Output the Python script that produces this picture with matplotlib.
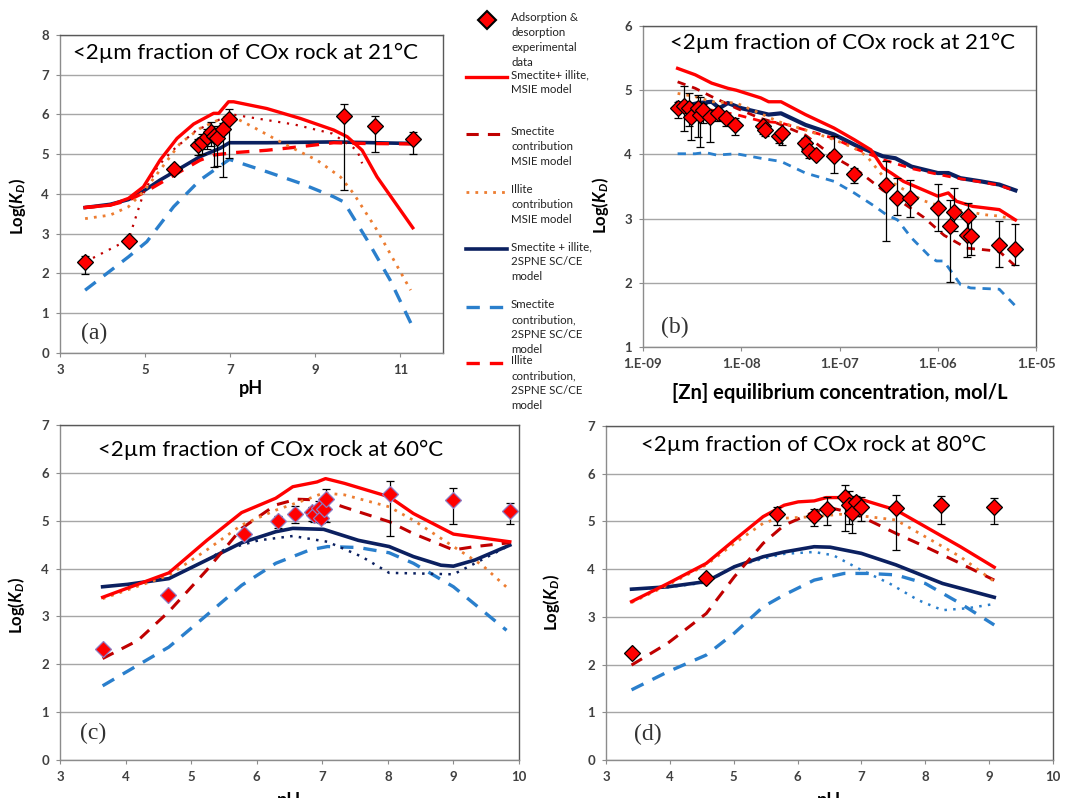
import matplotlib
matplotlib.use("Agg")
import matplotlib.pyplot as plt
from matplotlib.lines import Line2D
import numpy as np

plt.rcParams.update({
    "font.family": ["Lato", "DejaVu Sans"],
    "mathtext.fontset": "custom",
    "mathtext.rm": "Lato:bold",
    "mathtext.it": "Lato:italic:bold",
    "mathtext.bfit": "Lato:italic:bold",
    "axes.linewidth": 1.0,
})

RED = "#ff0000"
DKRED = "#c00000"
ORANGE = "#ed7d31"
NAVY = "#0b2060"
BLUE = "#2a7fcc"
GRID = "#a6a6a6"
TXT = "#404040"

# ---------------- panel (a): pH, 21 C ----------------
A_EXP_PH = [3.59, 4.61, 5.68, 6.25, 6.33, 6.45, 6.55, 6.62, 6.70, 6.84, 6.98, 9.67, 10.41, 11.29]
A_EXP_LK = [2.28, 2.81, 4.64, 5.23, 5.31, 5.43, 5.55, 5.47, 5.40, 5.63, 5.88, 5.96, 5.71, 5.38]
A_EXP_UP = [0.17, 0.0, 0.08, 0.15, 0.2, 0.2, 0.27, 0.25, 0.25, 0.15, 0.27, 0.30, 0.24, 0.19]
A_EXP_DN = [0.30, 0.0, 0.08, 0.25, 0.3, 0.3, 0.35, 0.80, 0.70, 1.20, 0.98, 1.86, 0.66, 0.38]

A_MSIE_PH = [3.59, 4.18, 4.61, 4.96, 5.35, 5.75, 6.14, 6.61, 6.73, 6.96, 7.08, 7.86, 8.65, 9.43, 9.75, 10.10, 10.45, 11.29]
A_MSIE_LK = [3.66, 3.72, 3.89, 4.18, 4.85, 5.40, 5.76, 6.03, 6.03, 6.32, 6.32, 6.15, 5.90, 5.61, 5.44, 5.10, 4.43, 3.15]
A_SMEC_MSIE_PH = [3.59, 4.61, 4.96, 5.30, 5.65, 6.20, 6.90, 7.05, 8.50, 9.40, 9.98, 10.10]
A_SMEC_MSIE_LK = [2.29, 2.85, 4.01, 4.70, 5.10, 5.60, 5.95, 6.00, 5.75, 5.52, 5.10, 4.77]
A_ILL_MSIE_PH = [3.59, 4.18, 4.61, 4.96, 5.35, 5.82, 6.29, 6.98, 7.53, 8.25, 9.04, 9.59, 9.90, 10.45, 11.24]
A_ILL_MSIE_LK = [3.38, 3.47, 3.68, 4.06, 4.60, 5.27, 5.65, 5.99, 5.69, 5.27, 4.85, 4.43, 4.01, 3.09, 1.58]
A_2SPNE_PH = [3.59, 4.18, 4.61, 5.00, 5.35, 5.75, 6.29, 6.76, 6.98, 7.86, 9.43, 11.32]
A_2SPNE_LK = [3.66, 3.74, 3.86, 4.10, 4.35, 4.60, 4.94, 5.15, 5.29, 5.29, 5.31, 5.27]
A_SMEC_2SPNE_PH = [3.59, 4.61, 5.04, 5.67, 6.29, 6.98, 7.86, 8.65, 9.43, 9.67, 10.22, 10.76, 11.29]
A_SMEC_2SPNE_LK = [1.58, 2.42, 2.80, 3.68, 4.35, 4.87, 4.56, 4.27, 3.93, 3.80, 2.84, 1.83, 0.65]
A_ILL_2SPNE_PH = [3.59, 4.18, 4.61, 5.00, 5.67, 6.29, 6.61, 7.08, 7.86, 8.65, 9.43, 10.20, 11.32]
A_ILL_2SPNE_LK = [3.66, 3.72, 3.84, 4.05, 4.47, 4.85, 4.98, 5.04, 5.10, 5.19, 5.29, 5.27, 5.26]

# ---------------- panel (b): isotherm, 21 C ----------------
B_EXP_C = [2.25e-9, 2.6e-9, 2.95e-9, 3.09e-9, 3.67e-9, 3.8e-9, 4.12e-9, 4.84e-9, 5.86e-9, 6.97e-9,
           8.61e-9, 1.65e-8, 1.73e-8, 2.42e-8, 2.58e-8, 4.5e-8, 4.95e-8, 5.82e-8, 8.79e-8, 1.39e-7,
           2.95e-7, 3.89e-7, 5.25e-7, 1.0e-6, 1.34e-6, 1.45e-6, 2.02e-6, 1.97e-6, 2.16e-6, 4.23e-6, 6.08e-6]
B_EXP_LK = [4.72, 4.75, 4.72, 4.59, 4.72, 4.62, 4.69, 4.59, 4.64, 4.56,
            4.46, 4.44, 4.38, 4.28, 4.34, 4.18, 4.05, 3.99, 3.97, 3.69,
            3.52, 3.32, 3.32, 3.16, 2.88, 3.10, 3.04, 2.75, 2.73, 2.59, 2.53]
B_EXP_UP = [0.10, 0.31, 0.23, 0.10, 0.20, 0.27, 0.10, 0.10, 0.05, 0.05,
            0.10, 0.05, 0.05, 0.06, 0.06, 0.07, 0.05, 0.05, 0.31, 0.10,
            0.38, 0.31, 0.28, 0.38, 0.41, 0.38, 0.20, 0.30, 0.30, 0.38, 0.38]
B_EXP_DN = [0.15, 0.38, 0.27, 0.37, 0.45, 0.50, 0.20, 0.40, 0.12, 0.12,
            0.16, 0.12, 0.10, 0.10, 0.20, 0.10, 0.10, 0.05, 0.26, 0.14,
            0.87, 0.26, 0.30, 0.35, 0.86, 0.30, 0.30, 0.35, 0.30, 0.35, 0.25]

B_MSIE_C = [2.25e-9, 3.4e-9, 5.0e-9, 7.3e-9, 8.9e-9, 1.58e-8, 1.9e-8, 2.54e-8, 4.5e-8, 8.8e-8,
            1.41e-7, 2.09e-7, 2.77e-7, 3.36e-7, 4.47e-7, 1.0e-6, 1.28e-6, 1.55e-6, 2.27e-6, 4.23e-6, 6.17e-6]
B_MSIE_LK = [5.34, 5.24, 5.11, 5.03, 5.00, 4.88, 4.82, 4.82, 4.62, 4.41,
             4.23, 4.07, 3.79, 3.71, 3.58, 3.35, 3.40, 3.27, 3.19, 3.14, 2.98]
B_SMEC_MSIE_C = [2.25e-9, 3.4e-9, 5.0e-9, 8.9e-9, 1.58e-8, 2.29e-8, 4.5e-8, 8.8e-8, 1.56e-7, 2.77e-7,
                 4.47e-7, 7.2e-7, 1.16e-6, 1.97e-6, 2.75e-6, 4.23e-6, 6.17e-6]
B_SMEC_MSIE_LK = [5.13, 5.03, 4.90, 4.72, 4.56, 4.49, 4.30, 3.96, 3.74, 3.44,
                  3.24, 3.02, 2.74, 2.54, 2.52, 2.49, 2.26]
B_ILL_MSIE_C = [2.25e-9, 3.4e-9, 5.0e-9, 8.9e-9, 1.45e-8, 2.4e-8, 4.5e-8, 8.8e-8, 1.41e-7, 1.9e-7,
                2.77e-7, 4.0e-7, 7.1e-7, 1.2e-6, 2.0e-6, 3.0e-6, 4.23e-6, 6.17e-6]
B_ILL_MSIE_LK = [4.95, 4.90, 4.82, 4.80, 4.66, 4.51, 4.38, 4.23, 4.10, 3.97,
                 3.66, 3.50, 3.28, 3.17, 3.11, 3.06, 3.04, 2.98]
B_2SPNE_C = [2.25e-9, 2.95e-9, 3.67e-9, 5.0e-9, 6.0e-9, 7.3e-9, 1.0e-8, 1.9e-8, 2.54e-8, 4.5e-8,
             8.8e-8, 1.56e-7, 2.77e-7, 3.71e-7, 5.4e-7, 1.0e-6, 1.28e-6, 1.7e-6, 2.75e-6, 4.23e-6, 6.17e-6]
B_2SPNE_LK = [4.80, 4.77, 4.80, 4.82, 4.72, 4.80, 4.72, 4.62, 4.64, 4.46,
              4.31, 4.12, 3.97, 3.94, 3.81, 3.71, 3.71, 3.63, 3.58, 3.53, 3.44]
B_ILL_2SPNE_C = [2.25e-9, 3.4e-9, 5.0e-9, 8.9e-9, 1.58e-8, 2.54e-8, 4.5e-8, 8.8e-8, 1.56e-7, 2.77e-7,
                 5.4e-7, 1.0e-6, 1.7e-6, 2.75e-6, 4.23e-6, 6.17e-6]
B_ILL_2SPNE_LK = [4.70, 4.70, 4.69, 4.62, 4.52, 4.49, 4.38, 4.25, 4.07, 3.92,
                  3.78, 3.69, 3.62, 3.57, 3.52, 3.43]
B_SMEC_2SPNE_C = [2.25e-9, 3.4e-9, 4.3e-9, 5.6e-9, 8.9e-9, 1.58e-8, 2.54e-8, 4.5e-8, 8.8e-8, 1.41e-7,
                  2.29e-7, 3.0e-7, 3.89e-7, 5.4e-7, 8.3e-7, 9.7e-7, 1.15e-6, 1.71e-6, 2.16e-6, 4.23e-6, 6.17e-6]
B_SMEC_2SPNE_LK = [4.01, 4.01, 4.03, 3.99, 4.01, 3.94, 3.89, 3.71, 3.58, 3.40,
                   3.19, 3.06, 2.98, 2.70, 2.41, 2.34, 2.34, 1.97, 1.92, 1.90, 1.64]

# ---------------- panel (c): pH, 60 C ----------------
C_EXP_PH = [3.65, 4.64, 5.80, 6.33, 6.58, 6.84, 6.88, 6.95, 6.98, 7.02, 7.06, 8.03, 9.00, 9.86]
C_EXP_LK = [2.31, 3.44, 4.73, 4.99, 5.15, 5.19, 5.12, 5.27, 5.05, 5.24, 5.45, 5.56, 5.43, 5.21]
C_EXP_UP = [0.0, 0.0, 0.0, 0.10, 0.15, 0.10, 0.10, 0.15, 0.10, 0.20, 0.22, 0.26, 0.25, 0.17]
C_EXP_DN = [0.0, 0.0, 0.0, 0.15, 0.20, 0.20, 0.15, 0.30, 0.10, 0.25, 0.48, 0.88, 0.49, 0.27]

C_MSIE_PH = [3.65, 4.66, 5.24, 5.77, 6.29, 6.55, 6.92, 7.05, 7.34, 8.02, 8.39, 9.00, 9.86]
C_MSIE_LK = [3.40, 3.91, 4.59, 5.17, 5.47, 5.71, 5.81, 5.88, 5.78, 5.50, 5.15, 4.72, 4.56]
C_SMEC_MSIE_PH = [3.65, 4.19, 4.66, 5.24, 5.77, 6.29, 6.61, 7.02, 7.34, 8.02, 8.39, 9.00, 9.33, 9.86]
C_SMEC_MSIE_LK = [2.12, 2.50, 3.10, 3.97, 4.84, 5.33, 5.45, 5.43, 5.28, 4.98, 4.73, 4.39, 4.46, 4.54]
C_ILL_MSIE_PH = [3.65, 4.66, 5.24, 5.77, 6.29, 6.81, 7.02, 7.34, 8.02, 8.39, 9.00, 9.44, 9.86]
C_ILL_MSIE_LK = [3.37, 3.86, 4.39, 4.91, 5.22, 5.47, 5.58, 5.54, 5.29, 5.01, 4.46, 4.07, 3.55]
C_2SPNE_PH = [3.65, 4.03, 4.66, 5.24, 5.77, 6.29, 6.55, 7.02, 7.55, 8.02, 8.39, 8.81, 9.00, 9.33, 9.86]
C_2SPNE_LK = [3.62, 3.67, 3.79, 4.18, 4.54, 4.77, 4.84, 4.82, 4.59, 4.46, 4.25, 4.07, 4.05, 4.18, 4.49]
C_DOT_2SPNE_PH = [5.24, 5.50, 6.03, 6.55, 7.08, 7.60, 8.02, 8.39, 9.00, 9.33, 9.86]
C_DOT_2SPNE_LK = [4.18, 4.39, 4.59, 4.68, 4.56, 4.25, 3.91, 3.90, 3.88, 4.11, 4.49]
C_SMEC_2SPNE_PH = [3.65, 4.66, 5.24, 5.77, 6.29, 6.81, 7.08, 7.55, 8.02, 8.39, 9.00, 9.81]
C_SMEC_2SPNE_LK = [1.55, 2.36, 3.03, 3.65, 4.11, 4.39, 4.46, 4.44, 4.33, 4.11, 3.62, 2.71]

# ---------------- panel (d): pH, 80 C ----------------
D_EXP_PH = [3.40, 4.57, 5.68, 6.26, 6.46, 6.75, 6.81, 6.86, 6.92, 6.99, 7.54, 8.24, 9.08]
D_EXP_LK = [2.25, 3.82, 5.15, 5.12, 5.27, 5.52, 5.34, 5.17, 5.41, 5.31, 5.29, 5.34, 5.31]
D_EXP_UP = [0.0, 0.0, 0.16, 0.14, 0.24, 0.25, 0.30, 0.20, 0.12, 0.20, 0.27, 0.19, 0.19]
D_EXP_DN = [0.0, 0.0, 0.23, 0.22, 0.35, 0.72, 0.40, 0.42, 0.30, 0.30, 0.88, 0.40, 0.37]

D_MSIE_PH = [3.40, 3.97, 4.57, 5.01, 5.46, 5.79, 6.01, 6.26, 6.45, 6.67, 7.00, 7.54, 8.00, 8.55, 9.08]
D_MSIE_LK = [3.32, 3.70, 4.12, 4.61, 5.10, 5.34, 5.41, 5.43, 5.50, 5.50, 5.46, 5.24, 4.89, 4.47, 4.04]
D_SMEC_MSIE_PH = [3.40, 3.97, 4.57, 5.01, 5.46, 5.79, 6.26, 6.56, 6.89, 7.54, 8.00, 8.55, 9.08]
D_SMEC_MSIE_LK = [1.99, 2.45, 3.07, 3.84, 4.54, 4.92, 5.20, 5.27, 5.17, 4.75, 4.47, 4.12, 3.77]
D_ILL_MSIE_PH = [3.40, 3.97, 4.57, 5.01, 5.46, 5.68, 6.26, 6.67, 7.11, 7.54, 8.00, 8.55, 9.08]
D_ILL_MSIE_LK = [3.30, 3.67, 4.09, 4.54, 4.96, 5.06, 5.10, 5.15, 5.10, 5.03, 4.68, 4.26, 3.74]
D_2SPNE_PH = [3.40, 3.97, 4.57, 5.01, 5.46, 5.79, 6.26, 6.51, 7.00, 7.54, 8.27, 9.08]
D_2SPNE_LK = [3.58, 3.63, 3.74, 4.05, 4.26, 4.36, 4.47, 4.46, 4.33, 4.09, 3.70, 3.41]
D_DOT_2SPNE_PH = [3.40, 3.97, 4.57, 5.01, 5.46, 5.79, 6.26, 6.56, 7.00, 7.44, 7.89, 8.27, 8.66, 9.08]
D_DOT_2SPNE_LK = [3.58, 3.62, 3.72, 4.05, 4.22, 4.32, 4.36, 4.29, 3.98, 3.70, 3.35, 3.14, 3.18, 3.27]
D_SMEC_2SPNE_PH = [3.40, 3.97, 4.57, 5.01, 5.46, 5.79, 6.26, 6.73, 7.11, 7.54, 8.00, 8.55, 9.08]
D_SMEC_2SPNE_LK = [1.47, 1.85, 2.20, 2.66, 3.21, 3.46, 3.77, 3.91, 3.91, 3.88, 3.70, 3.28, 2.83]

LEGEND_LABELS = [
    "Adsorption &\ndesorption\nexperimental\ndata",
    "Smectite+ illite,\nMSIE model",
    "Smectite\ncontribution\nMSIE model",
    "Illite\ncontribution\nMSIE model",
    "Smectite + illite,\n2SPNE SC/CE\nmodel",
    "Smectite\ncontribution,\n2SPNE SC/CE\nmodel",
    "Illite\ncontribution,\n2SPNE SC/CE\nmodel",
]

B_XTICKS = [1e-9, 1e-8, 1e-7, 1e-6, 1e-5]
B_XTICKLABELS = ["1.E-09", "1.E-08", "1.E-07", "1.E-06", "1.E-05"]

TITLE = "<2\u00b5m fraction of COx rock at {}\u00b0C"
YLABEL = r"Log($\mathbfit{K}_{\mathbfit{D}}$)"

# line styles
S_MSIE = dict(color=RED, lw=2.4, ls="-", zorder=3)
S_SMEC_MSIE = dict(color=DKRED, lw=2.2, ls=(0, (4, 3)), zorder=3)
S_SMEC_MSIE_DOT = dict(color=DKRED, lw=1.6, ls=(0, (1, 3)), zorder=3)
S_ILL_MSIE = dict(color=ORANGE, lw=2.0, ls=(0, (1, 2.2)), zorder=3)
S_2SPNE = dict(color=NAVY, lw=2.6, ls="-", zorder=3)
S_DOT_2SPNE = dict(color=NAVY, lw=1.8, ls=(0, (1, 2.5)), zorder=3)
S_BLUEDOT = dict(color=BLUE, lw=1.8, ls=(0, (1, 2.5)), zorder=3)
S_SMEC_2SPNE = dict(color=BLUE, lw=2.4, ls=(0, (4, 3)), zorder=3)
S_ILL_2SPNE = dict(color=RED, lw=2.4, ls=(0, (4, 3)), zorder=3)

W, H = 1090, 798
fig = plt.figure(figsize=(W / 100, H / 100), dpi=100)


def box(l, r, t, b):
    return [l / W, 1 - b / H, (r - l) / W, (b - t) / H]


def style(ax, ylim, yticks):
    ax.set_ylim(*ylim)
    ax.set_yticks(yticks)
    ax.grid(axis="y", color=GRID, lw=1.0)
    ax.set_axisbelow(True)
    for s in ["top", "right"]:
        ax.spines[s].set_color("#595959")
    for s in ["left", "bottom"]:
        ax.spines[s].set_color("#8c8c8c")
    ax.tick_params(axis="both", direction="out", length=3, color="#8c8c8c",
                   labelsize=9.5, labelcolor=TXT, pad=5)
    for lab in ax.get_xticklabels() + ax.get_yticklabels():
        lab.set_fontweight("bold")
    ax.set_ylabel(YLABEL, fontsize=12, fontweight="bold", color="black")


def exp(ax, x, y, up, dn, edge="black"):
    ax.errorbar(x, y, yerr=[dn, up], fmt="none", ecolor="black", elinewidth=0.9,
                capsize=3, capthick=0.9, zorder=4)
    ax.plot(x, y, ls="none", marker="D", ms=7.8, mfc=RED, mec=edge, mew=0.9, zorder=5)


def label(ax, s, x, y):
    ax.text(x, y, s, transform=ax.transAxes, fontsize=17, family="Liberation Serif",
            ha="center", va="center", color="#333333")


# ---- (a)
ax = fig.add_axes(box(60, 443, 35, 353))
ax.plot(A_SMEC_2SPNE_PH, A_SMEC_2SPNE_LK, **S_SMEC_2SPNE)
ax.plot(A_2SPNE_PH, A_2SPNE_LK, **S_2SPNE)
ax.plot(A_ILL_2SPNE_PH, A_ILL_2SPNE_LK, **S_ILL_2SPNE)
ax.plot(A_ILL_MSIE_PH, A_ILL_MSIE_LK, **S_ILL_MSIE)
ax.plot(A_SMEC_MSIE_PH, A_SMEC_MSIE_LK, **S_SMEC_MSIE_DOT)
ax.plot(A_MSIE_PH, A_MSIE_LK, **S_MSIE)
exp(ax, A_EXP_PH, A_EXP_LK, A_EXP_UP, A_EXP_DN)
ax.set_xlim(3, 12)
ax.set_xticks([3, 5, 7, 9, 11])
style(ax, (0, 8), range(0, 9))
ax.set_xlabel("pH", fontsize=13, fontweight="bold", labelpad=3)
ax.yaxis.set_label_coords(-0.084, 0.46)
ax.text(0.034, 0.943, TITLE.format(21), transform=ax.transAxes, fontsize=16, va="center")
label(ax, "(a)", 0.088, 0.063)

# ---- (b)
ax = fig.add_axes(box(643, 1036, 26, 347))
ax.set_xscale("log")
ax.plot(B_SMEC_2SPNE_C, B_SMEC_2SPNE_LK, **dict(S_SMEC_2SPNE, lw=2.0, ls=(0, (3, 2.5))))
ax.plot(B_2SPNE_C, B_2SPNE_LK, **dict(S_2SPNE, lw=3.0))
ax.plot(B_ILL_2SPNE_C, B_ILL_2SPNE_LK, **dict(S_ILL_2SPNE, lw=2.0, ls=(0, (3, 2.5))))
ax.plot(B_SMEC_MSIE_C, B_SMEC_MSIE_LK, **dict(S_SMEC_MSIE, lw=2.0, ls=(0, (3, 2.5))))
ax.plot(B_ILL_MSIE_C, B_ILL_MSIE_LK, **S_ILL_MSIE)
ax.plot(B_MSIE_C, B_MSIE_LK, **S_MSIE)
exp(ax, B_EXP_C, B_EXP_LK, B_EXP_UP, B_EXP_DN)
ax.set_xlim(1e-9, 1e-5)
ax.set_xticks(B_XTICKS)
ax.set_xticklabels(B_XTICKLABELS)
ax.minorticks_off()
style(ax, (1, 6), range(1, 7))
ax.set_xlabel("[Zn] equilibrium concentration, mol/L", fontsize=14.5, fontweight="bold", labelpad=9)
ax.yaxis.set_label_coords(-0.081, 0.44)
ax.text(0.069, 0.947, TITLE.format(21), transform=ax.transAxes, fontsize=16, va="center")
label(ax, "(b)", 0.081, 0.062)

# ---- (c)
ax = fig.add_axes(box(60, 519, 425, 760))
ax.plot(C_SMEC_2SPNE_PH, C_SMEC_2SPNE_LK, **S_SMEC_2SPNE)
ax.plot(C_DOT_2SPNE_PH, C_DOT_2SPNE_LK, **S_DOT_2SPNE)
ax.plot(C_2SPNE_PH, C_2SPNE_LK, **S_2SPNE)
ax.plot(C_SMEC_MSIE_PH, C_SMEC_MSIE_LK, **S_SMEC_MSIE)
ax.plot(C_ILL_MSIE_PH, C_ILL_MSIE_LK, **S_ILL_MSIE)
ax.plot(C_MSIE_PH, C_MSIE_LK, **S_MSIE)
exp(ax, C_EXP_PH, C_EXP_LK, C_EXP_UP, C_EXP_DN, edge="#8e7cc3")
ax.set_xlim(3, 10)
ax.set_xticks(range(3, 11))
style(ax, (0, 7), range(0, 8))
ax.yaxis.set_label_coords(-0.072, 0.46)
ax.text(0.082, 0.925, TITLE.format(60), transform=ax.transAxes, fontsize=16, va="center")
label(ax, "(c)", 0.072, 0.08)
fig.text((60 + 519) / 2 / W, 1 - 792 / H, "pH", ha="center", va="top", fontsize=13, fontweight="bold")

# ---- (d)
ax = fig.add_axes(box(606, 1053, 426, 760))
ax.plot(D_SMEC_2SPNE_PH, D_SMEC_2SPNE_LK, **S_SMEC_2SPNE)
ax.plot(D_DOT_2SPNE_PH, D_DOT_2SPNE_LK, **S_BLUEDOT)
ax.plot(D_2SPNE_PH, D_2SPNE_LK, **S_2SPNE)
ax.plot(D_SMEC_MSIE_PH, D_SMEC_MSIE_LK, **S_SMEC_MSIE)
ax.plot(D_ILL_MSIE_PH, D_ILL_MSIE_LK, **S_ILL_MSIE)
ax.plot(D_MSIE_PH, D_MSIE_LK, **S_MSIE)
exp(ax, D_EXP_PH, D_EXP_LK, D_EXP_UP, D_EXP_DN)
ax.set_xlim(3, 10)
ax.set_xticks(range(3, 11))
style(ax, (0, 7), range(0, 8))
ax.yaxis.set_label_coords(-0.098, 0.47)
ax.text(0.078, 0.943, TITLE.format(80), transform=ax.transAxes, fontsize=16, va="center")
label(ax, "(d)", 0.094, 0.075)
fig.text((606 + 1053) / 2 / W, 1 - 792 / H, "pH", ha="center", va="top", fontsize=13, fontweight="bold")

# ---- legend (drawn between panels a and b)
leg_y = [16, 73, 130, 188, 245, 303, 359]
leg_styles = [None, S_MSIE, S_SMEC_MSIE, S_ILL_MSIE, S_2SPNE, S_SMEC_2SPNE, S_ILL_2SPNE]
for yy, lab, st in zip(leg_y, LEGEND_LABELS, leg_styles):
    yf = 1 - (yy + 4) / H
    if st is None:
        fig.add_artist(Line2D([487 / W], [yf], marker="D", ms=9, mfc=RED, mec="black",
                              mew=1.5, ls="none"))
    else:
        kw = {k: v for k, v in st.items() if k != "zorder"}
        fig.add_artist(Line2D([466 / W, 507 / W], [yf, yf], **kw))
    fig.text(511 / W, 1 - (yy - 4) / H, lab, fontsize=8.3, va="top", ha="left",
             color="#222222", linespacing=1.45)

fig.savefig("out.png", dpi=100)
